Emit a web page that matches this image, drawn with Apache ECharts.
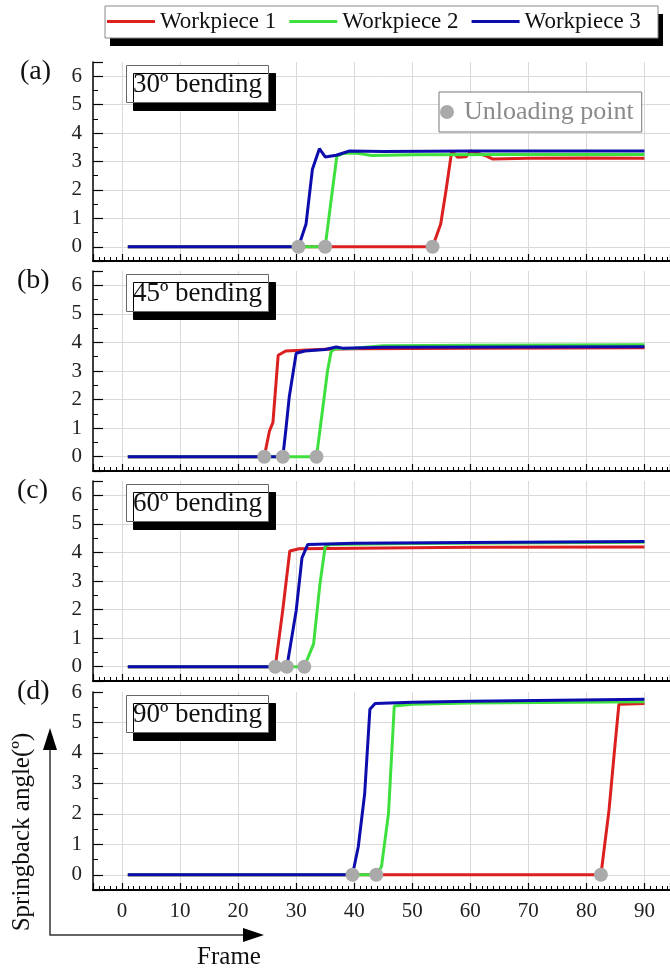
<!DOCTYPE html>
<html>
<head>
<meta charset="utf-8">
<script src="https://cdn.jsdelivr.net/npm/echarts@6/dist/echarts.min.js"></script>
<style>
  html, body { margin: 0; padding: 0; background: #fff; }
  #chart { width: 670px; height: 969px; }
</style>
</head>
<body>
<div id="chart"></div>
<script>
// Springback angle vs. frame for three workpieces at four bending angles.
const workpieceNames = ['Workpiece 1', 'Workpiece 2', 'Workpiece 3'];
const panelLetters = ['(a)', '(b)', '(c)', '(d)'];
const bendingLabels = ['30º bending', '45º bending', '60º bending', '90º bending'];

// [frame, springback angle (º)]
const bend30_wp1 = [[1,0],[53.5,0],[54.9,0.8],[55.8,1.96],[56.8,3.37],[57.8,3.15],[59.3,3.17],[60.1,3.37],[62.7,3.2],[63.8,3.09],[70,3.11],[80,3.12],[90,3.11]];
const bend30_wp2 = [[1,0],[35,0],[36,1.6],[37,3.18],[38,3.28],[40,3.3],[41.5,3.26],[43,3.21],[50,3.24],[70,3.25],[90,3.25]];
const bend30_wp3 = [[1,0],[30.4,0],[31.7,0.8],[32.8,2.73],[34,3.45],[35,3.16],[36.9,3.22],[39.2,3.37],[45,3.35],[60,3.37],[90,3.37]];

const bend45_wp1 = [[1,0],[24.5,0],[25.4,0.9],[26,1.2],[26.9,3.55],[28.2,3.7],[30,3.72],[35,3.76],[40,3.78],[60,3.8],[90,3.81]];
const bend45_wp2 = [[1,0],[33.5,0],[34.6,1.73],[35.4,3.0],[36,3.66],[36.6,3.78],[40,3.8],[45,3.88],[60,3.9],[90,3.92]];
const bend45_wp3 = [[1,0],[27.7,0],[28.2,0.9],[28.8,2.08],[30,3.62],[31.5,3.7],[35,3.75],[36.9,3.84],[38,3.8],[45,3.83],[90,3.85]];

const bend60_wp1 = [[1,0],[26.4,0],[27.7,2.0],[28.9,4.05],[30.5,4.13],[40,4.15],[60,4.18],[90,4.19]];
const bend60_wp2 = [[1,0],[31.4,0],[33,0.8],[34.1,2.9],[35,4.21],[36,4.28],[50,4.31],[90,4.36]];
const bend60_wp3 = [[1,0],[28.4,0],[30,1.96],[31,3.81],[32,4.28],[40,4.32],[60,4.35],[90,4.38]];

const bend90_wp1 = [[1,0],[82.5,0],[83.9,2.13],[84.8,4.0],[85.6,5.6],[90,5.62]];
const bend90_wp2 = [[1,0],[43.8,0],[44.7,0.27],[45.9,2.0],[46.9,5.54],[50,5.6],[60,5.64],[90,5.68]];
const bend90_wp3 = [[1,0],[39.7,0],[40.7,0.92],[41.8,2.66],[42.7,5.43],[43.6,5.62],[50,5.66],[60,5.7],[90,5.76]];

// Unloading frames per panel, in workpiece order
const unload30 = [53.5, 35, 30.4];
const unload45 = [24.5, 33.5, 27.7];
const unload60 = [26.4, 31.4, 28.4];
const unload90 = [82.5, 43.8, 39.7];

const xTicks = [0, 10, 20, 30, 40, 50, 60, 70, 80, 90];
const yTicks = [0, 1, 2, 3, 4, 5, 6];

const panelData = [
  [bend30_wp1, bend30_wp2, bend30_wp3],
  [bend45_wp1, bend45_wp2, bend45_wp3],
  [bend60_wp1, bend60_wp2, bend60_wp3],
  [bend90_wp1, bend90_wp2, bend90_wp3]
];
const panelUnload = [unload30, unload45, unload60, unload90];

const colors = ['#dc1f1f', '#3ee03e', '#0d0dae'];
const SERIF = '"Liberation Serif", "Times New Roman", Times, serif';

const gridTops = [62, 271, 481, 692];
const gridHeights = [199, 200, 200, 198];
const yMaxes = [6.5, 6.5, 6.5, 6];

const grids = [], xAxes = [], yAxes = [], series = [], titles = [];

for (let p = 0; p < 4; p++) {
  const last = p === 3;
  grids.push({ left: 93, right: 0, top: gridTops[p], height: gridHeights[p], outerBoundsMode: 'none' });
  xAxes.push({
    type: 'value', gridIndex: p, min: -5, max: 94.4, splitNumber: 10,
    axisLine: { show: true, onZero: false, lineStyle: { color: '#000', width: 2 } },
    axisTick: { show: true, inside: true, length: 7, lineStyle: { color: '#000', width: 1.2 } },
    minorTick: { show: true, splitNumber: 10, length: 4, lineStyle: { color: '#000', width: 1 } },
    splitLine: { show: true, showMinLine: false, showMaxLine: false, lineStyle: { color: '#d9d9d9', width: 1 } },
    axisLabel: {
      show: last, margin: 11, showMinLabel: false, showMaxLabel: false,
      fontFamily: SERIF, fontSize: 21, color: '#222',
      formatter: v => (xTicks.indexOf(v) >= 0 ? String(v) : '')
    }
  });
  yAxes.push({
    type: 'value', gridIndex: p, min: -0.5, max: yMaxes[p], splitNumber: last ? 6.5 : 7,
    axisLine: { show: true, onZero: false, lineStyle: { color: '#000', width: 1.5 } },
    axisTick: { show: true, inside: true, length: 10, lineStyle: { color: '#000', width: 1.2 } },
    minorTick: { show: true, splitNumber: 2, length: 5, lineStyle: { color: '#000', width: 1 } },
    splitLine: { show: true, showMinLine: false, showMaxLine: false, lineStyle: { color: '#d9d9d9', width: 1 } },
    axisLabel: {
      show: true, margin: 11, showMinLabel: false, showMaxLabel: last,
      fontFamily: SERIF, fontSize: 21, color: '#222',
      formatter: v => (yTicks.indexOf(v) >= 0 ? String(v) : '')
    }
  });

  for (let w = 0; w < 3; w++) {
    series.push({
      type: 'line', name: workpieceNames[w], xAxisIndex: p, yAxisIndex: p,
      data: panelData[p][w], showSymbol: false, symbol: 'none',
      lineStyle: { color: colors[w], width: 3 }, itemStyle: { color: colors[w] },
      z: 2 + w, animation: false
    });
  }
  series.push({
    type: 'scatter', name: 'Unloading point', xAxisIndex: p, yAxisIndex: p,
    data: panelUnload[p].map(f => [f, 0]), symbolSize: 14,
    itemStyle: { color: '#aaaaaa', opacity: 1 }, z: 10, animation: false
  });

  titles.push({
    text: panelLetters[p], left: p === 0 ? 20 : 17, top: gridTops[p] - 4 - (last ? 10 : 0), padding: 0,
    textStyle: { fontFamily: SERIF, fontSize: 28, fontWeight: 'normal', color: '#111' }
  });
  titles.push({
    text: bendingLabels[p], left: 126, top: gridTops[p] + 3,
    padding: [4, 7, 3, 7], backgroundColor: '#fff', borderColor: '#666', borderWidth: 1,
    shadowColor: '#000', shadowBlur: 0, shadowOffsetX: 7, shadowOffsetY: 8,
    textStyle: { fontFamily: SERIF, fontSize: 27, fontWeight: 'normal', color: '#111', lineHeight: 31 }
  });
}

const chart = echarts.init(document.getElementById('chart'), null, { renderer: 'canvas' });
chart.setOption({
  backgroundColor: '#fff',
  animation: false,
  title: titles,
  legend: [
    {
      data: workpieceNames, left: 107, top: 10, icon: 'rect', itemWidth: 48, itemHeight: 3,
      itemGap: 13, padding: 0, selectedMode: false, z: 6,
      textStyle: { fontFamily: SERIF, fontSize: 23, color: '#111' }
    },
    {
      data: ['Unloading point'], left: 439, top: 92, icon: 'circle', itemWidth: 24, itemHeight: 14,
      padding: [7, 8, 7, 1], selectedMode: false,
      backgroundColor: '#fff', borderColor: '#777', borderWidth: 1,
      textStyle: { fontFamily: SERIF, fontSize: 26, color: '#8a8a8a' }
    }
  ],
  grid: grids,
  xAxis: xAxes,
  yAxis: yAxes,
  series: series,
  graphic: [
    // legend frame with drop shadow
    { type: 'rect', z: 1, shape: { x: 110, y: 14, width: 553, height: 32 }, style: { fill: '#000' } },
    { type: 'rect', z: 2, shape: { x: 105, y: 6, width: 553, height: 32 }, style: { fill: '#fff', stroke: '#888', lineWidth: 1 } },
    // axis arrows
    { type: 'polyline', shape: { points: [[50, 742], [50, 935], [250, 935]] },
      style: { stroke: '#333', lineWidth: 1.5, fill: null } },
    { type: 'polygon', shape: { points: [[50, 728], [43, 750], [57, 750]] }, style: { fill: '#000' } },
    { type: 'polygon', shape: { points: [[264, 935], [243, 928], [243, 942]] }, style: { fill: '#000' } },
    { type: 'text', x: 229, y: 957, style: { text: 'Frame', font: '25px ' + SERIF, fill: '#111', align: 'center', verticalAlign: 'middle' } },
    { type: 'text', x: 22, y: 832, rotation: Math.PI / 2,
      style: { text: 'Springback angle(º)', font: '25px ' + SERIF, fill: '#111', align: 'center', verticalAlign: 'middle' } }
  ]
});
</script>
</body>
</html>
